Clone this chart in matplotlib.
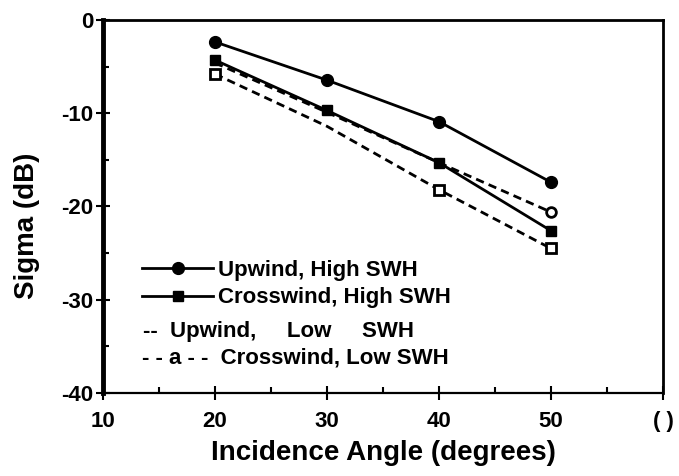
import matplotlib
matplotlib.use("Agg")
import matplotlib.pyplot as plt
from matplotlib.lines import Line2D
from matplotlib.ticker import MultipleLocator

plt.rcParams['font.family'] = ['Liberation Sans', 'DejaVu Sans']

# Backscatter vs incidence angle
angles = [20, 30, 40, 50]
upwind_high = [-2.35, -6.45, -10.9, -17.4]
crosswind_high = [-4.3, -9.7, -15.3, -22.6]
upwind_low = [-4.6, -9.9, -15.3, -20.6]
crosswind_low = [-5.8, -11.4, -18.2, -24.5]

x_ticks = [10, 20, 30, 40, 50, 60]
x_tick_labels = ['10', '20', '30', '40', '50', '( )']
y_ticks = [0, -10, -20, -30, -40]
y_tick_labels = ['0', '-10', '-20', '-30', '-40']

fig = plt.figure(figsize=(6.79, 4.76), dpi=100)
ax = fig.add_axes([0.1517, 0.1744, 0.8247, 0.7836])

dash = (0, (3.0, 1.9))
# low SWH curves first so the solid curves sit on top of them
ax.plot(angles, upwind_low, color='black', lw=2, ls=dash, marker='o', ms=7,
        mfc='white', mew=2, markevery=[3])
ax.plot(angles, crosswind_low, color='black', lw=2, ls=dash, marker='s', ms=7,
        mfc='white', mew=2, markevery=[0, 2, 3])
ax.plot(angles, upwind_high, color='black', lw=2, marker='o', ms=8.5)
ax.plot(angles, crosswind_high, color='black', lw=2, marker='s', ms=7.5)

ax.set_xlim(10, 60)
ax.set_ylim(-40, 0)
ax.set_xticks(x_ticks)
ax.set_xticklabels(x_tick_labels)
ax.set_yticks(y_ticks)
ax.set_yticklabels(y_tick_labels)
ax.xaxis.set_minor_locator(MultipleLocator(5))
ax.yaxis.set_minor_locator(MultipleLocator(5))
ax.tick_params(axis='both', which='major', direction='inout', length=10, width=1.5,
               labelsize=16)
ax.tick_params(axis='x', which='major', pad=8)
ax.tick_params(axis='y', which='major', pad=2)
ax.tick_params(axis='both', which='minor', direction='in', length=4, width=1.5)
for lbl in ax.get_xticklabels() + ax.get_yticklabels():
    lbl.set_fontweight('bold')

ax.spines['top'].set_linewidth(2)
ax.spines['right'].set_linewidth(2)
ax.spines['bottom'].set_linewidth(1.6)
ax.spines['left'].set_linewidth(3.5)

ax.set_xlabel('Incidence Angle (degrees)', fontsize=20, fontweight='bold')
ax.xaxis.set_label_coords(0.5, -0.125)
ax.xaxis.label.set_va('top')
ax.set_ylabel('Sigma (dB)', fontsize=20, fontweight='bold')
ax.yaxis.set_label_coords(-0.113, 0.448)

# legend: the two high-SWH series get line handles, the low-SWH rows are typed
handles = [Line2D([], [], color='black', lw=2, marker='o', ms=8.5),
           Line2D([], [], color='black', lw=2, marker='s', ms=7.5)]
leg = ax.legend(handles, ['Upwind, High SWH', 'Crosswind, High SWH'],
                loc='center left', bbox_to_anchor=(0.0696, 0.292), frameon=False,
                prop={'size': 16, 'weight': 'bold'}, handlelength=3.2,
                handletextpad=0.23, labelspacing=0.3, borderpad=0, borderaxespad=0)
ax.text(0.0714, 0.166, '--  Upwind,     Low     SWH', transform=ax.transAxes,
        fontsize=16, fontweight='bold', va='center', ha='left')
ax.text(0.0696, 0.094, '- - a - -  Crosswind, Low SWH', transform=ax.transAxes,
        fontsize=16, fontweight='bold', va='center', ha='left')

fig.savefig('out.png', dpi=100)
